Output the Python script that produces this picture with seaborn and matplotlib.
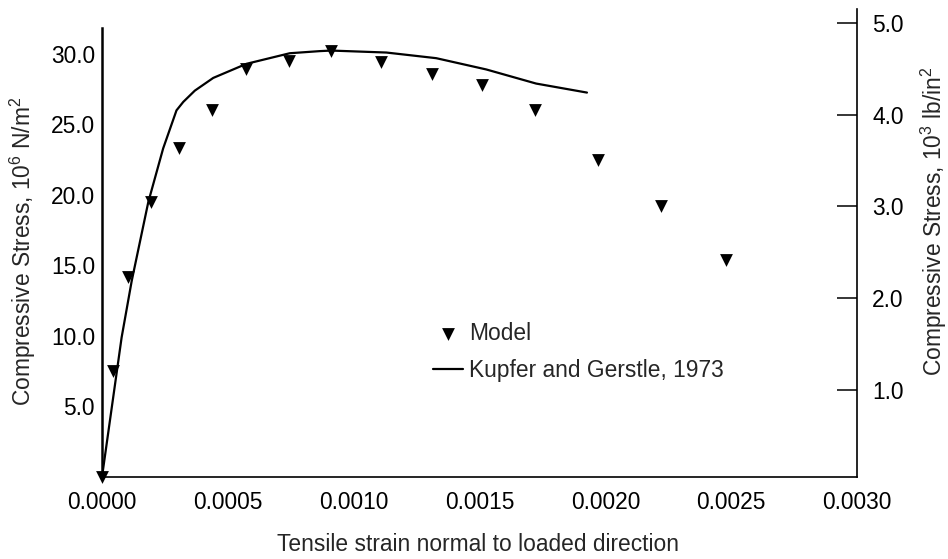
import matplotlib
matplotlib.use('Agg')
import matplotlib.pyplot as plt
import seaborn as sns

# ---- data ----
model_strain = [0.0, 0.000045, 0.000104, 0.000193, 0.000307, 0.000438, 0.000573,
                0.000744, 0.00091, 0.00111, 0.00131, 0.00151, 0.00172, 0.00197,
                0.00222, 0.00248]
model_stress = [0.0, 7.5, 14.2, 19.5, 23.3, 26.0, 28.9, 29.5, 30.2, 29.4, 28.6,
                27.8, 26.0, 22.5, 19.2, 15.4]

kupfer_strain = [0.0, 0.000078, 0.000118, 0.000184, 0.000243, 0.000296,
                 0.000323, 0.000369, 0.000442, 0.000574, 0.000746, 0.000865,
                 0.000911, 0.00113, 0.001328, 0.001527, 0.001725, 0.001927]
kupfer_stress = [0.0, 9.9, 13.9, 19.5, 23.3, 26.0, 26.6, 27.4, 28.3, 29.3,
                 30.05, 30.2, 30.24, 30.1, 29.7, 28.9, 27.9, 27.26]

x_ticks = [0.0, 0.0005, 0.0010, 0.0015, 0.0020, 0.0025, 0.0030]
x_tick_labels = ['0.0000', '0.0005', '0.0010', '0.0015', '0.0020', '0.0025', '0.0030']
left_ticks = [5, 10, 15, 20, 25, 30]
left_tick_labels = ['5.0', '10.0', '15.0', '20.0', '25.0', '30.0']
right_ticks = [1, 2, 3, 4, 5]
right_tick_labels = ['1.0', '2.0', '3.0', '4.0', '5.0']

label_model = 'Model'
label_kupfer = 'Kupfer and Gerstle, 1973'
xlabel = 'Tensile strain normal to loaded direction'
ylabel_left = 'Compressive Stress, 10$^{6}$ N/m$^{2}$'
ylabel_right = 'Compressive Stress, 10$^{3}$ lb/in$^{2}$'

# ---- style ----
sns.set_style('white')
plt.rcParams['font.family'] = ['Liberation Sans', 'DejaVu Sans']
plt.rcParams['mathtext.default'] = 'regular'
FS = 16.4

W, H = 948, 559
fig = plt.figure(figsize=(W / 100, H / 100), dpi=100)
ax = fig.add_axes([102 / W, 82 / H, 755 / W, 449 / H])
ax2 = fig.add_axes([102 / W, 82 / H, 755 / W, 468 / H])
ax2.patch.set_visible(False)

sns.lineplot(x=kupfer_strain, y=kupfer_stress, ax=ax, color='black', linewidth=1.6,
             sort=False, estimator=None, label=label_kupfer)
sns.scatterplot(x=model_strain, y=model_stress, ax=ax, marker='v', s=85,
                color='black', linewidth=0, label=label_model, zorder=3, clip_on=False)

ax.set_xlim(0, 0.0030)
ax.set_ylim(0, 31.84)
ax.set_xticks(x_ticks, x_tick_labels)
ax.set_yticks(left_ticks, left_tick_labels)
ax.tick_params(axis='y', direction='in', length=14.4, width=1.3, pad=5,
               labelsize=FS, colors='black')
ax.tick_params(axis='x', direction='in', length=8, width=1.1, pad=10,
               labelsize=FS, colors='black')
for s in ['top', 'right']:
    ax.spines[s].set_visible(False)
ax.spines['left'].set_linewidth(1.8)
ax.spines['bottom'].set_linewidth(1.2)
ax.spines['left'].set_color('black')
ax.spines['bottom'].set_color('black')

ax.set_xlabel(xlabel, fontsize=FS)
ax.xaxis.label.set_va('center')
ax.xaxis.set_label_coords(0.498, -0.1514)
ax.set_ylabel(ylabel_left, fontsize=FS)
ax.yaxis.label.set_va('center')
ax.yaxis.set_label_coords(-0.1046, 0.502)

# right axis
ax2.set_ylim(0.05, 5.15)
ax2.set_xticks([])
ax2.yaxis.tick_right()
ax2.set_yticks(right_ticks, right_tick_labels)
ax2.tick_params(axis='y', direction='in', length=14.4, width=1.1, pad=11,
                labelsize=FS, colors='black')
for s in ['top', 'left', 'bottom']:
    ax2.spines[s].set_visible(False)
ax2.spines['right'].set_linewidth(1.2)
ax2.spines['right'].set_color('black')
ax2.set_ylabel(ylabel_right, fontsize=FS, rotation=90)
ax2.yaxis.set_label_position('right')
ax2.yaxis.label.set_va('center')
ax2.yaxis.set_label_coords(1.102, 0.547)

# legend
handles, labels = ax.get_legend_handles_labels()
order = [labels.index(label_model), labels.index(label_kupfer)]
ax.legend([handles[i] for i in order], [labels[i] for i in order],
          loc='upper left', bbox_to_anchor=(433 / W, 1 - 322 / H),
          bbox_transform=fig.transFigure, frameon=False, borderpad=0,
          borderaxespad=0, handlelength=1.3, handletextpad=0.3,
          labelspacing=0.6, fontsize=FS)

fig.savefig('out.png', dpi=100)
